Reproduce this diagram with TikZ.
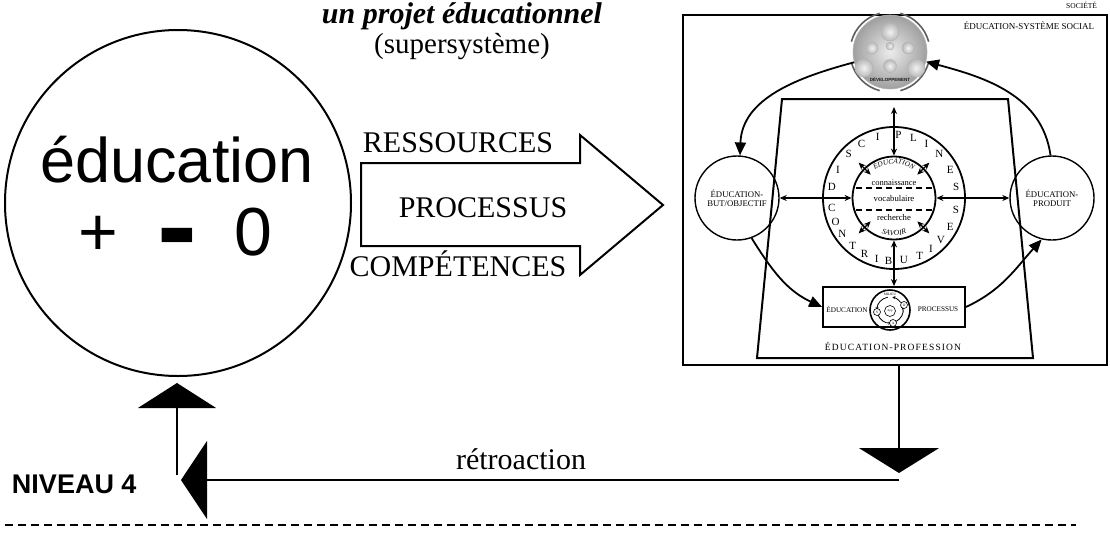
\documentclass[tikz,border=0pt]{standalone}
\usepackage{fontspec}
\setmainfont{Liberation Serif}
\newfontfamily\hel{Liberation Sans}
\usetikzlibrary{arrows.meta,decorations.text,shapes.geometric}
\newcommand\myfs[1]{\fontsize{#1}{#1}\selectfont}
\begin{document}
\begin{tikzpicture}[x=1pt,y=1pt,
  thinarrow/.style={line width=1.3pt,{Stealth[length=7pt,width=6pt]}-{Stealth[length=7pt,width=6pt]}},
  curvarrow/.style={line width=1.8pt,-{Triangle[length=13pt,width=11pt]}},
  smallcirc/.style={circle,draw,line width=1.4pt,minimum size=84pt,inner sep=0pt,align=center,font=\myfs{8.7}},
  ringletter/.style={font=\myfs{11},inner sep=0pt},
  fbline/.style={line width=1.6pt},
  blank/.style={inner sep=0pt,outer sep=0pt}]
\useasboundingbox (0,0) rectangle (1110,-536);

% ---------- left: big circle ----------
\node[circle,draw,line width=2pt,minimum size=346pt,inner sep=0pt] (edu) at (178,-203) {};
\node[anchor=base,font=\hel\myfs{63},blank] (edutxt) at (177,-182) {éducation};
\node[anchor=base,font=\hel\myfs{68},blank] (plus) at (98,-255) {+};
\node[anchor=base,font=\hel\bfseries\myfs{68},blank,scale=1.76] (minus) at (177,-266) {-};
\node[anchor=base,font=\hel\myfs{68},blank] (zero) at (253,-255) {0};

% ---------- title ----------
\node[anchor=base,font=\myfs{30}\bfseries\itshape,blank] (title) at (462,-23) {un projet éducationnel};
\node[anchor=base,font=\myfs{29},blank] (super) at (462,-53) {(supersystème)};

% ---------- big arrow ----------
\draw[line width=2pt,line join=miter] (361,-163) -- (580,-163) -- (580,-135) -- (663,-205)
   -- (580,-275) -- (580,-246) -- (361,-246) -- cycle;
\node[anchor=base,font=\myfs{30}] (res) at (458,-152) {RESSOURCES};
\node[anchor=base,font=\myfs{30}] (proc) at (483,-217) {PROCESSUS};
\node[anchor=base,font=\myfs{30}] (comp) at (458,-276) {COMPÉTENCES};

% ---------- right: society box ----------
\node[draw,line width=2.5pt,minimum width=424pt,minimum height=350pt,inner sep=0pt] (sys) at (895,-190) {};
\node[anchor=north east,font=\myfs{7.5},blank] (soc) at (1097,-2) {SOCIÉTÉ};
\node[anchor=north east,font=\myfs{9},blank] (ess) at (1094,-22) {ÉDUCATION-SYSTÈME SOCIAL};

% trapezoid
\draw[line width=2pt] (782,-99) -- (1008,-99) -- (1033,-358) -- (757,-358) -- cycle;

% gray development circle
\node[circle,minimum size=74pt,inner sep=0pt,shade,inner color=gray!15,outer color=gray!75,draw=gray!60,line width=0.6pt] (gray) at (890,-52) {};
\foreach \a/\b in {105/165,15/75,195/255,285/345}
  \draw[gray!75!black,line width=1.6pt] ([shift={(890,-52)}]\a:40) arc[start angle=\a,end angle=\b,radius=40];
\foreach \p/\r in {{(890,-32)}/9,{(872,-48)}/6,{(908,-48)}/6,{(890,-46)}/4,{(864,-68)}/9,{(916,-68)}/9,{(890,-66)}/6.5}
  \shade[inner color=gray!10,outer color=gray!55,draw=gray!60,line width=0.4pt] \p circle[radius=\r];
\node[font=\hel\bfseries\myfs{4.5},text=gray!20!black,blank] (dev) at (890,-80) {DÉVELOPPEMENT};

% small circles
\node[smallcirc] (but) at (737,-198) {ÉDUCATION-\\BUT/OBJECTIF};
\node[smallcirc] (prod) at (1052,-198) {ÉDUCATION-\\PRODUIT};

% central circles
\node[circle,draw,line width=1.8pt,minimum size=142pt,inner sep=0pt] (outer) at (894,-198) {};
\node[circle,draw,line width=1.8pt,minimum size=83pt,inner sep=0pt] (inner) at (894,-198) {};
\draw[line width=2pt,dash pattern=on 6pt off 4pt] (856,-187.5) -- (932,-187.5);
\draw[line width=2pt,dash pattern=on 6pt off 4pt] (856,-210) -- (932,-210);
\node[font=\myfs{8.5},blank] (conn) at (894,-182.5) {connaissance};
\node[font=\myfs{8.7},blank] (voc) at (894,-198.5) {vocabulaire};
\node[font=\myfs{8.7},blank] (rech) at (894,-218) {recherche};
\path[decorate,decoration={text along path,text align=center,
   text={|\myfs{7.2}\itshape|ÉDUCATION}}]
   ([shift={(894,-198)}]150:34.3) arc[start angle=150,end angle=30,radius=34.3];
\path[decorate,decoration={text along path,text align=center,
   text={|\myfs{7.5}\itshape|SAVOIR}}]
   ([shift={(894,-198)}]236:37.5) arc[start angle=236,end angle=304,radius=37.5];

% ring letters
\foreach \l/\a in {D/170,I/153,S/136,C/121,I/105,P/86,L/72,I/59,N/44,E/27,S/10}
  \node[ringletter] at ([shift={(894,-198)}]\a:63) {\l};
\foreach \l/\a in {C/189,O/202,N/215,T/229,R/242,I/254,B/265,U/279,T/294,I/306,V/318,E/333,S/349}
  \node[ringletter] at ([shift={(894,-198)}]\a:63) {\l};

% diagonal small arrows
\foreach \a in {45,135,225,315}
  \draw[thinarrow] ([shift={(894,-198)}]\a:33) -- ([shift={(894,-198)}]\a:50);

% profession box
\node[draw,line width=1.8pt,minimum width=142pt,minimum height=40pt,inner sep=0pt] (box) at (894,-307) {};
\node[font=\myfs{7.2},blank] (boxedu) at (847,-309) {ÉDUCATION};
\node[font=\myfs{7.2},blank] (boxproc) at (938,-309) {PROCESSUS};
\node[circle,draw,line width=1.6pt,minimum size=40pt,inner sep=0pt] (soma) at (890,-310) {};
\draw[line width=0.8pt,-{Stealth[length=3pt,width=3pt]}] ([shift={(890,-310)}]200:13) arc[start angle=200,end angle=275,radius=13];
\draw[line width=0.8pt,-{Stealth[length=3pt,width=3pt]}] ([shift={(890,-310)}]-65:13) arc[start angle=-65,end angle=15,radius=13];
\draw[line width=0.8pt,-{Stealth[length=3pt,width=3pt]}] ([shift={(890,-310)}]35:13) arc[start angle=35,end angle=80,radius=13];
\draw[line width=0.8pt,-{Stealth[length=3pt,width=3pt]}] ([shift={(890,-310)}]100:13) arc[start angle=100,end angle=180,radius=13];
\node[circle,draw,fill=white,line width=0.6pt,minimum size=7pt,inner sep=0pt,font=\myfs{3.5}] (sS) at (877,-312) {S};
\node[circle,draw,fill=white,line width=0.6pt,minimum size=7pt,inner sep=0pt,font=\myfs{3.5}] (sO) at (904,-305) {O};
\node[circle,draw,fill=white,line width=0.6pt,minimum size=7pt,inner sep=0pt,font=\myfs{3.5}] (sA) at (893,-323) {A};
\node[circle,draw,fill=white,line width=0.6pt,minimum size=11pt,inner sep=0pt,font=\myfs{3}] (sApp) at (890,-311) {App};
\node[font=\myfs{3.5},blank] (milieu) at (890,-294) {MILIEU};
\node[font=\myfs{9.5},blank] (prof) at (893,-346) {\addfontfeature{LetterSpace=12}ÉDUCATION-PROFESSION};

% straight double arrows
\coordinate (ttop) at (894,-107);
\draw[thinarrow] (ttop) -- (inner.north);
\draw[thinarrow] (inner.south) -- (box.north);
\draw[thinarrow] (but.east) -- (inner.west);
\draw[thinarrow] (inner.east) -- (prod.west);

% big curved arrows
\draw[curvarrow] (gray.196) to[out=195,in=88] (but.86);
\draw[curvarrow] (but.-70) to[out=-58,in=155] (box.west);
\draw[curvarrow] (box.east) to[out=25,in=228] (prod.-104);
\draw[curvarrow] (prod.92) to[out=98,in=-15] (gray.-15);

% ---------- feedback ----------
\coordinate (fbA) at (899,-365);
\coordinate (fbB) at (899,-473);
\coordinate (fbC) at (899,-480);
\coordinate (fbD) at (181,-480);
\coordinate (upA) at (177,-475);
\coordinate (upB) at (177,-383);
\draw[fbline,-{Triangle[length=25pt,width=80pt]}] (fbA) -- (fbB);
\draw[fbline,-{Triangle[length=26pt,width=78pt]}] (fbC) -- (fbD);
\draw[fbline,-{Triangle[length=25pt,width=78pt]}] (upA) -- (upB);
\node[anchor=base,font=\myfs{30}] (retro) at (521,-469) {rétroaction};
\node[anchor=base west,font=\hel\bfseries\myfs{27},blank] (niv) at (12,-493) {NIVEAU 4};

\coordinate (dl) at (5,-525);
\coordinate (dr) at (1076,-525);
\draw[line width=1.5pt,dash pattern=on 8pt off 5pt] (dl) -- (dr);
\end{tikzpicture}
\end{document}
